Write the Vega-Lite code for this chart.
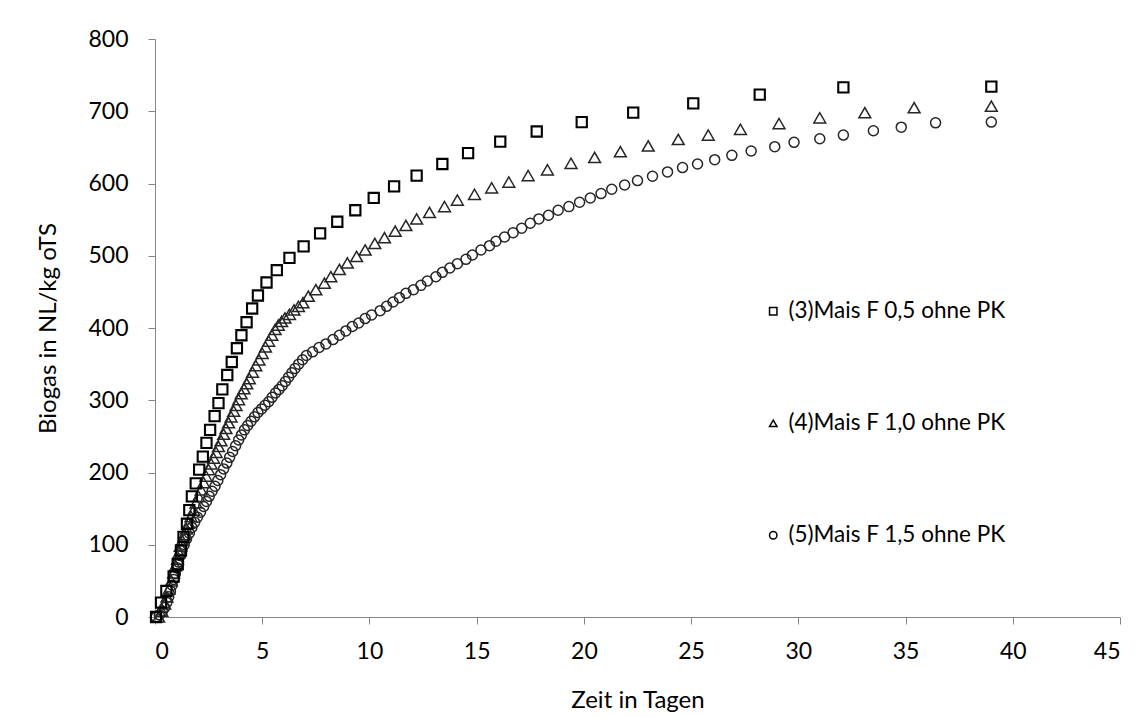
{
  "$schema": "https://vega.github.io/schema/vega-lite/v6.json",
  "width": 965,
  "height": 578,
  "autosize": {"type": "none"},
  "padding": {"left": 155, "top": 39, "right": 18, "bottom": 100},
  "background": "white",
  "config": {"view": {"stroke": null}, "font": "Lato"},
  "datasets": {
    "d": [
      {"s":"3","t":0.05,"v":0},{"s":"3","t":0.28,"v":20},{"s":"3","t":0.53,"v":36},{"s":"3","t":0.87,"v":56},{"s":"3","t":1.06,"v":73},{"s":"3","t":1.21,"v":92},{"s":"3","t":1.33,"v":111},{"s":"3","t":1.49,"v":129},{"s":"3","t":1.6,"v":148},{"s":"3","t":1.72,"v":167},{"s":"3","t":1.9,"v":185},{"s":"3","t":2.06,"v":204},{"s":"3","t":2.23,"v":222},{"s":"3","t":2.4,"v":241},{"s":"3","t":2.57,"v":259},{"s":"3","t":2.78,"v":278},{"s":"3","t":2.96,"v":296},{"s":"3","t":3.14,"v":315},{"s":"3","t":3.37,"v":335},{"s":"3","t":3.58,"v":353},{"s":"3","t":3.82,"v":372},{"s":"3","t":4.03,"v":390},{"s":"3","t":4.27,"v":408},{"s":"3","t":4.53,"v":427},{"s":"3","t":4.8,"v":445},{"s":"3","t":5.2,"v":463},{"s":"3","t":5.68,"v":480},{"s":"3","t":6.27,"v":497},{"s":"3","t":6.93,"v":513},{"s":"3","t":7.7,"v":531},{"s":"3","t":8.5,"v":547},{"s":"3","t":9.34,"v":563},{"s":"3","t":10.2,"v":580},{"s":"3","t":11.15,"v":596},{"s":"3","t":12.2,"v":611},{"s":"3","t":13.4,"v":627},{"s":"3","t":14.6,"v":642},{"s":"3","t":16.1,"v":658},{"s":"3","t":17.8,"v":672},{"s":"3","t":19.9,"v":685},{"s":"3","t":22.3,"v":698},{"s":"3","t":25.1,"v":711},{"s":"3","t":28.2,"v":723},{"s":"3","t":32.1,"v":733},{"s":"3","t":39.0,"v":734},
      {"s":"4","t":0.17,"v":0},{"s":"4","t":0.32,"v":8},{"s":"4","t":0.45,"v":18},{"s":"4","t":0.56,"v":28},{"s":"4","t":0.66,"v":39},{"s":"4","t":0.76,"v":50},{"s":"4","t":0.87,"v":61},{"s":"4","t":0.96,"v":71},{"s":"4","t":1.05,"v":80},{"s":"4","t":1.12,"v":89},{"s":"4","t":1.18,"v":98},{"s":"4","t":1.27,"v":106},{"s":"4","t":1.37,"v":114},{"s":"4","t":1.47,"v":122},{"s":"4","t":1.57,"v":130},{"s":"4","t":1.68,"v":139},{"s":"4","t":1.8,"v":148},{"s":"4","t":1.91,"v":158},{"s":"4","t":2.03,"v":167},{"s":"4","t":2.15,"v":176},{"s":"4","t":2.27,"v":186},{"s":"4","t":2.38,"v":195},{"s":"4","t":2.5,"v":204},{"s":"4","t":2.62,"v":212},{"s":"4","t":2.73,"v":220},{"s":"4","t":2.85,"v":228},{"s":"4","t":2.96,"v":236},{"s":"4","t":3.08,"v":244},{"s":"4","t":3.2,"v":253},{"s":"4","t":3.31,"v":261},{"s":"4","t":3.43,"v":269},{"s":"4","t":3.55,"v":277},{"s":"4","t":3.67,"v":285},{"s":"4","t":3.78,"v":293},{"s":"4","t":3.9,"v":301},{"s":"4","t":4.02,"v":309},{"s":"4","t":4.15,"v":316},{"s":"4","t":4.28,"v":323},{"s":"4","t":4.4,"v":330},{"s":"4","t":4.55,"v":339},{"s":"4","t":4.7,"v":348},{"s":"4","t":4.85,"v":356},{"s":"4","t":5.0,"v":365},{"s":"4","t":5.15,"v":374},{"s":"4","t":5.3,"v":382},{"s":"4","t":5.45,"v":390},{"s":"4","t":5.6,"v":398},{"s":"4","t":5.75,"v":404},{"s":"4","t":5.9,"v":409},{"s":"4","t":6.06,"v":414},{"s":"4","t":6.27,"v":419},{"s":"4","t":6.48,"v":425},{"s":"4","t":6.69,"v":430},{"s":"4","t":6.9,"v":435},{"s":"4","t":7.15,"v":444},{"s":"4","t":7.5,"v":453},{"s":"4","t":7.9,"v":462},{"s":"4","t":8.2,"v":471},{"s":"4","t":8.6,"v":481},{"s":"4","t":8.97,"v":490},{"s":"4","t":9.4,"v":499},{"s":"4","t":9.8,"v":508},{"s":"4","t":10.25,"v":517},{"s":"4","t":10.7,"v":525},{"s":"4","t":11.2,"v":534},{"s":"4","t":11.7,"v":542},{"s":"4","t":12.2,"v":551},{"s":"4","t":12.8,"v":560},{"s":"4","t":13.5,"v":568},{"s":"4","t":14.1,"v":577},{"s":"4","t":14.9,"v":585},{"s":"4","t":15.7,"v":594},{"s":"4","t":16.5,"v":602},{"s":"4","t":17.4,"v":611},{"s":"4","t":18.3,"v":619},{"s":"4","t":19.4,"v":628},{"s":"4","t":20.5,"v":636},{"s":"4","t":21.7,"v":644},{"s":"4","t":23.0,"v":652},{"s":"4","t":24.4,"v":661},{"s":"4","t":25.8,"v":667},{"s":"4","t":27.3,"v":675},{"s":"4","t":29.1,"v":683},{"s":"4","t":31.0,"v":691},{"s":"4","t":33.1,"v":698},{"s":"4","t":35.4,"v":705},{"s":"4","t":39.0,"v":707},
      {"s":"5","t":0.05,"v":0},{"s":"5","t":0.2,"v":3},{"s":"5","t":0.35,"v":8},{"s":"5","t":0.45,"v":13},{"s":"5","t":0.55,"v":20},{"s":"5","t":0.64,"v":28},{"s":"5","t":0.72,"v":36},{"s":"5","t":0.8,"v":44},{"s":"5","t":0.87,"v":52},{"s":"5","t":0.95,"v":60},{"s":"5","t":1.02,"v":68},{"s":"5","t":1.1,"v":76},{"s":"5","t":1.18,"v":85},{"s":"5","t":1.26,"v":93},{"s":"5","t":1.36,"v":100},{"s":"5","t":1.47,"v":108},{"s":"5","t":1.6,"v":116},{"s":"5","t":1.72,"v":124},{"s":"5","t":1.85,"v":131},{"s":"5","t":1.98,"v":138},{"s":"5","t":2.12,"v":145},{"s":"5","t":2.27,"v":153},{"s":"5","t":2.4,"v":160},{"s":"5","t":2.53,"v":167},{"s":"5","t":2.66,"v":174},{"s":"5","t":2.8,"v":181},{"s":"5","t":2.93,"v":189},{"s":"5","t":3.06,"v":197},{"s":"5","t":3.2,"v":205},{"s":"5","t":3.35,"v":213},{"s":"5","t":3.48,"v":221},{"s":"5","t":3.62,"v":229},{"s":"5","t":3.76,"v":237},{"s":"5","t":3.9,"v":245},{"s":"5","t":4.03,"v":252},{"s":"5","t":4.17,"v":259},{"s":"5","t":4.32,"v":265},{"s":"5","t":4.48,"v":271},{"s":"5","t":4.64,"v":277},{"s":"5","t":4.8,"v":283},{"s":"5","t":4.97,"v":288},{"s":"5","t":5.13,"v":293},{"s":"5","t":5.3,"v":298},{"s":"5","t":5.46,"v":304},{"s":"5","t":5.62,"v":310},{"s":"5","t":5.78,"v":315},{"s":"5","t":5.93,"v":320},{"s":"5","t":6.08,"v":326},{"s":"5","t":6.23,"v":332},{"s":"5","t":6.38,"v":338},{"s":"5","t":6.53,"v":344},{"s":"5","t":6.7,"v":350},{"s":"5","t":6.88,"v":356},{"s":"5","t":7.06,"v":362},{"s":"5","t":7.35,"v":367},{"s":"5","t":7.65,"v":373},{"s":"5","t":7.97,"v":378},{"s":"5","t":8.3,"v":384},{"s":"5","t":8.6,"v":390},{"s":"5","t":8.9,"v":396},{"s":"5","t":9.2,"v":402},{"s":"5","t":9.5,"v":407},{"s":"5","t":9.8,"v":413},{"s":"5","t":10.1,"v":418},{"s":"5","t":10.5,"v":424},{"s":"5","t":10.8,"v":430},{"s":"5","t":11.1,"v":436},{"s":"5","t":11.4,"v":442},{"s":"5","t":11.7,"v":448},{"s":"5","t":12.05,"v":453},{"s":"5","t":12.4,"v":459},{"s":"5","t":12.7,"v":465},{"s":"5","t":13.1,"v":471},{"s":"5","t":13.4,"v":477},{"s":"5","t":13.75,"v":483},{"s":"5","t":14.1,"v":489},{"s":"5","t":14.5,"v":495},{"s":"5","t":14.8,"v":501},{"s":"5","t":15.2,"v":508},{"s":"5","t":15.6,"v":514},{"s":"5","t":15.9,"v":520},{"s":"5","t":16.3,"v":526},{"s":"5","t":16.7,"v":532},{"s":"5","t":17.1,"v":538},{"s":"5","t":17.5,"v":545},{"s":"5","t":17.9,"v":551},{"s":"5","t":18.35,"v":556},{"s":"5","t":18.8,"v":563},{"s":"5","t":19.3,"v":568},{"s":"5","t":19.8,"v":574},{"s":"5","t":20.3,"v":580},{"s":"5","t":20.8,"v":586},{"s":"5","t":21.3,"v":592},{"s":"5","t":21.9,"v":598},{"s":"5","t":22.5,"v":604},{"s":"5","t":23.2,"v":610},{"s":"5","t":23.9,"v":616},{"s":"5","t":24.6,"v":622},{"s":"5","t":25.3,"v":627},{"s":"5","t":26.1,"v":633},{"s":"5","t":26.9,"v":639},{"s":"5","t":27.8,"v":645},{"s":"5","t":28.9,"v":651},{"s":"5","t":29.8,"v":657},{"s":"5","t":31.0,"v":662},{"s":"5","t":32.1,"v":667},{"s":"5","t":33.5,"v":673},{"s":"5","t":34.8,"v":678},{"s":"5","t":36.4,"v":684},{"s":"5","t":39.0,"v":685}
    ]
  },
  "data": {"name": "d"},
  "encoding": {
    "x": {
      "field": "t", "type": "quantitative",
      "scale": {"domain": [0, 45], "nice": false, "zero": false},
      "axis": {
        "title": "Zeit in Tagen", "values": [0,5,10,15,20,25,30,35,40,45],
        "grid": false, "domainColor": "#868686", "tickColor": "#868686", "tickSize": 7,
        "labelFontSize": 23, "labelColor": "#000", "labelPadding": 16, "labelFont": "Lato",
        "titleFontSize": 24, "titleFontWeight": "normal", "titleColor": "#000", "titlePadding": 25, "titleFont": "Lato"
      }
    },
    "y": {
      "field": "v", "type": "quantitative",
      "scale": {"domain": [0, 800], "nice": false},
      "axis": {
        "title": "Biogas in NL/kg oTS", "values": [0,100,200,300,400,500,600,700,800],
        "grid": false, "domainColor": "#868686", "tickColor": "#868686", "tickSize": 7,
        "labelFontSize": 23, "labelColor": "#000", "labelPadding": 20, "labelFont": "Lato",
        "titleFontSize": 24, "titleFontWeight": "normal", "titleColor": "#000", "titlePadding": 27, "titleFont": "Lato"
      }
    },
    "shape": {
      "field": "s", "type": "nominal",
      "scale": {"domain": ["3","4","5"], "range": ["square","triangle-up","circle"]},
      "legend": {
        "orient": "none", "legendX": 607, "legendY": 261, "title": null, "padding": 0,
        "rowPadding": 89, "labelFontSize": 22.5, "labelColor": "#000", "labelFont": "Lato",
        "labelLimit": 400, "labelOffset": 4, "symbolSize": 55, "symbolStrokeColor": "#000", "symbolStrokeWidth": 1.5,
        "symbolFillColor": "white",
        "labelExpr": "datum.label == '3' ? '(3)Mais F 0,5 ohne PK' : datum.label == '4' ? '(4)Mais F 1,0 ohne PK' : '(5)Mais F 1,5 ohne PK'"
      }
    }
  },
  "layer": [
    {
      "transform": [{"filter": "datum.s == '5'"}],
      "mark": {"type": "point", "filled": false, "color": "#262626", "opacity": 1, "size": 100, "strokeWidth": 1.5}
    },
    {
      "transform": [{"filter": "datum.s == '4'"}],
      "mark": {"type": "point", "filled": false, "color": "#262626", "opacity": 1, "size": 140, "strokeWidth": 1.5}
    },
    {
      "transform": [{"filter": "datum.s == '3'"}],
      "mark": {"type": "point", "filled": false, "color": "#000", "opacity": 1, "size": 105, "strokeWidth": 2.1}
    }
  ]
}
